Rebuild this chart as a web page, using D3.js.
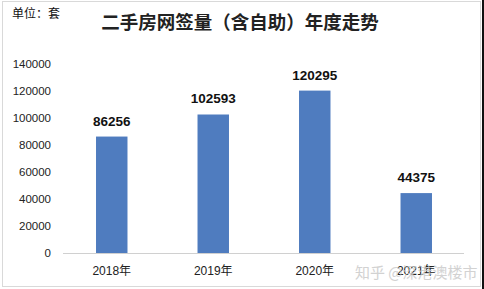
<!DOCTYPE html>
<html>
<head>
<meta charset="utf-8">
<script src="https://cdn.jsdelivr.net/npm/d3@7"></script>
<style>
  body { margin: 0; background: #fff; }
  svg { display: block; }
</style>
</head>
<body>
<div id="chart"></div>
<script>
var years = ["2018年", "2019年", "2020年", "2021年"];
var counts = [86256, 102593, 120295, 44375];
var yTicks = [0, 20000, 40000, 60000, 80000, 100000, 120000, 140000];

var width = 484, height = 289;
var svg = d3.select("#chart").append("svg")
    .attr("width", width)
    .attr("height", height);

// frame like the screenshot
svg.append("rect")
    .attr("x", 2.5).attr("y", 1.5)
    .attr("width", 478).attr("height", 285)
    .attr("fill", "#fff")
    .attr("stroke", "#d9d9d9");
svg.append("rect")
    .attr("x", 482).attr("y", 0)
    .attr("width", 2).attr("height", height)
    .attr("fill", "#111");

var x = d3.scaleBand()
    .domain(years)
    .range([61, 467])
    .paddingInner(0.69)
    .paddingOuter(0.345);

var y = d3.scaleLinear()
    .domain([0, 140000])
    .range([253, 64]);

// baseline
svg.append("line")
    .attr("x1", 63).attr("x2", 464)
    .attr("y1", y(0) + 0.5).attr("y2", y(0) + 0.5)
    .attr("stroke", "#d0d0d0");

var yAxis = d3.axisLeft(y)
    .tickValues(yTicks)
    .tickSize(0)
    .tickPadding(0)
    .tickFormat(function(d) { return d; });

svg.append("g")
    .attr("transform", "translate(51,0)")
    .call(yAxis)
    .call(function(g) { g.select(".domain").remove(); })
    .selectAll("text")
        .attr("font-family", "'Liberation Sans', Arial, sans-serif")
        .attr("font-size", 11.5)
        .attr("fill", "#222");

var xAxis = d3.axisBottom(x).tickSize(0).tickPadding(0);
svg.append("g")
    .attr("transform", "translate(0,266)")
    .call(xAxis)
    .call(function(g) { g.select(".domain").remove(); })
    .selectAll("text")
        .attr("font-family", "'Liberation Sans', 'Noto Sans CJK SC', sans-serif")
        .attr("font-size", 12)
        .attr("fill", "#222");

svg.selectAll("rect.bar")
    .data(counts)
    .enter().append("rect")
        .attr("class", "bar")
        .attr("x", function(d, i) { return x(years[i]); })
        .attr("y", function(d) { return y(d); })
        .attr("width", x.bandwidth())
        .attr("height", function(d) { return y(0) - y(d); })
        .attr("fill", "#4f7cbf");

svg.selectAll("text.val")
    .data(counts)
    .enter().append("text")
        .attr("class", "val")
        .attr("x", function(d, i) { return x(years[i]) + x.bandwidth() / 2; })
        .attr("y", function(d) { return y(d) - 11; })
        .attr("text-anchor", "middle")
        .attr("font-family", "'Liberation Sans', Arial, sans-serif")
        .attr("font-weight", "bold")
        .attr("font-size", 13.5)
        .attr("fill", "#111")
        .text(function(d) { return d; });

svg.append("text")
    .attr("x", 240).attr("y", 29)
    .attr("text-anchor", "middle")
    .attr("font-family", "'Noto Sans CJK SC', sans-serif")
    .attr("font-weight", "bold")
    .attr("font-size", 18.5)
    .attr("fill", "#222")
    .text("二手房网签量（含自助）年度走势");

svg.append("text")
    .attr("x", 12).attr("y", 18)
    .attr("font-family", "'Noto Sans CJK SC', sans-serif")
    .attr("font-size", 12)
    .attr("fill", "#111")
    .text("单位：套");

// watermark
svg.append("text")
    .attr("x", 355).attr("y", 278)
    .attr("font-family", "'Noto Sans CJK SC', sans-serif")
    .attr("font-size", 15)
    .attr("fill", "#c8c8c8")
    .attr("opacity", 0.8)
    .text("知乎 @深港澳楼市");
</script>
</body>
</html>
